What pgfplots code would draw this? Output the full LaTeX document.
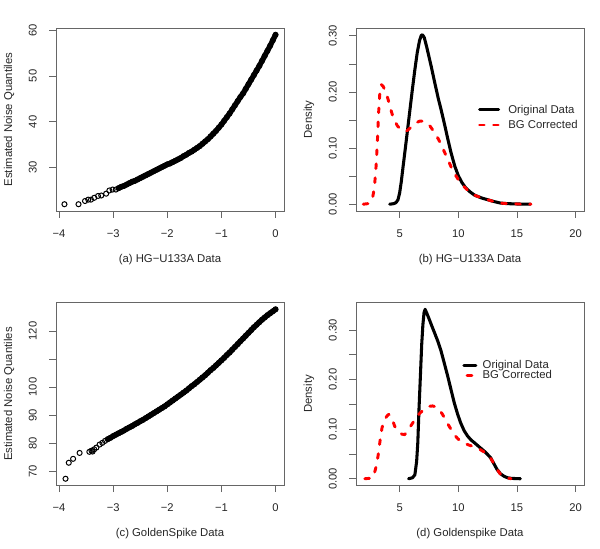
\documentclass[border=0pt]{standalone}
\usepackage{fontspec}
\setmainfont{Liberation Sans}
\usepackage{pgfplots}
\pgfplotsset{compat=1.18}
\definecolor{boxgray}{gray}{0.4}
\definecolor{txt}{gray}{0.15}
\pgfplotsset{
  rbase/.style={
    scale only axis, width=171pt, height=137.25pt, anchor=south west,
    axis line style={boxgray, line width=0.6pt},
    every tick/.style={boxgray, line width=0.6pt},
    tick align=outside, major tick length=5pt,
    xtick pos=bottom, ytick pos=left,
    ticklabel style={font=\fontsize{8.4}{10}\selectfont, text=txt, inner sep=0pt, text height=6pt, text depth=0pt},
    xticklabel style={anchor=north},
    yticklabel style={rotate=90, anchor=south},
    xticklabel shift=8.5pt, yticklabel shift=9.25pt,
    label style={font=\fontsize{8.5}{10}\selectfont, text=txt},
    xlabel style={at={(axis description cs:0.5,-0.265)}, anchor=center},
    ylabel style={at={(axis description cs:-0.2061,0.5)}, anchor=center, rotate=0},
    clip=true,
  },
  qq/.style={rbase, xmin=-4.056, xmax=0.156, xtick={-4,-3,-2,-1,0}, xticklabels={−4,−3,−2,−1,0}, ylabel={Estimated Noise Quantiles}},
  dens/.style={rbase, xmin=1.28, xmax=20.72, xtick={5,10,15,20}, xticklabels={5,10,15,20},
    ytick={0,0.05,0.1,0.15,0.2,0.25,0.3}, yticklabels={0.00,,0.10,,0.20,,0.30}, ylabel={Density},
    legend cell align=left,
  },
  circ/.style={only marks, mark=o, mark size=1.9pt, mark options={line width=0.75pt, black}},
  band/.style={black, line width=4pt, line join=round, line cap=round},
  orig/.style={black, line width=2.3pt, line cap=round, line join=round},
  bgc/.style={red, line width=2.2pt, line cap=round, line join=round, dash pattern=on 3.5pt off 7pt},
}
\pgfplotstableread{
x y
-2.90 25.5
-2.85 25.8
-2.80 26.0
-2.75 26.3
-2.70 26.6
-2.65 26.9
-2.60 27.1
-2.55 27.4
-2.50 27.7
-2.45 28.0
-2.40 28.3
-2.35 28.6
-2.30 28.9
-2.25 29.2
-2.20 29.5
-2.15 29.8
-2.10 30.1
-2.05 30.4
-2.00 30.7
-1.95 30.9
-1.90 31.2
-1.85 31.5
-1.80 31.8
-1.75 32.1
-1.70 32.5
-1.65 32.8
-1.60 33.2
-1.55 33.5
-1.50 33.9
-1.45 34.3
-1.40 34.7
-1.35 35.2
-1.30 35.7
-1.25 36.2
-1.20 36.8
-1.15 37.4
-1.10 38.0
-1.05 38.7
-1.00 39.4
-0.95 40.2
-0.90 41.0
-0.85 41.8
-0.80 42.7
-0.75 43.6
-0.70 44.5
-0.65 45.4
-0.60 46.2
-0.55 47.2
-0.50 48.2
-0.45 49.2
-0.40 50.2
-0.35 51.2
-0.30 52.2
-0.25 53.3
-0.20 54.4
-0.15 55.5
-0.10 56.6
-0.05 57.8
0.00 59.0
}\qqAdense
\pgfplotstableread{
x y
-3.90 22.0
-3.64 22.0
-3.52 22.7
-3.46 23.0
-3.41 23.0
-3.35 23.4
-3.28 23.8
-3.22 23.9
-3.13 24.3
-3.07 25.0
-3.01 25.2
-2.95 25.2
}\qqAsparse
\pgfplotstableread{
x y
-3.10 81.4
-3.05 81.9
-3.00 82.5
-2.95 83.0
-2.90 83.5
-2.85 84.0
-2.80 84.5
-2.75 85.1
-2.70 85.6
-2.65 86.1
-2.60 86.7
-2.55 87.2
-2.50 87.8
-2.45 88.3
-2.40 88.9
-2.35 89.5
-2.30 90.1
-2.25 90.7
-2.20 91.3
-2.15 91.9
-2.10 92.5
-2.05 93.1
-2.00 93.8
-1.95 94.5
-1.90 95.2
-1.85 95.9
-1.80 96.6
-1.75 97.3
-1.70 98.0
-1.65 98.7
-1.60 99.5
-1.55 100.3
-1.50 101.0
-1.45 101.8
-1.40 102.6
-1.35 103.4
-1.30 104.2
-1.25 105.1
-1.20 106.0
-1.15 106.8
-1.10 107.7
-1.05 108.6
-1.00 109.5
-0.95 110.4
-0.90 111.4
-0.85 112.3
-0.80 113.3
-0.75 114.3
-0.70 115.3
-0.65 116.3
-0.60 117.3
-0.55 118.3
-0.50 119.3
-0.45 120.3
-0.40 121.3
-0.35 122.2
-0.30 123.1
-0.25 124.0
-0.20 124.8
-0.15 125.6
-0.10 126.3
-0.05 127.0
0.00 127.7
}\qqCdense
\pgfplotstableread{
x y
-3.88 67.3
-3.82 73.0
-3.74 74.4
-3.62 76.5
-3.44 76.9
-3.40 77.3
-3.38 77.0
-3.35 77.8
-3.31 78.4
-3.25 79.5
-3.20 80.1
-3.15 80.8
}\qqCsparse
\begin{document}
\begin{tikzpicture}
\path[use as bounding box] (0,0) rectangle (450pt,411.75pt);
% (a)
\begin{axis}[qq, at={(42pt,253.5pt)}, ymin=20.52, ymax=60.48, ytick={30,40,50,60}, yticklabels={30,40,50,60},
  xlabel={(a) HG−U133A Data}]
\addplot[band] table[x=x,y=y] {\qqAdense};
\addplot[circ] table[x=x,y=y] {\qqAdense};
\addplot[circ] table[x=x,y=y] {\qqAsparse};
\end{axis}
% (b)
\begin{axis}[dens, at={(267pt,253.5pt)}, ymin=-0.0121, ymax=0.3141, xlabel={(b) HG−U133A Data},
  legend image code/.code={\draw[#1] (0pt,0pt) -- (14.25pt,0pt);},
  legend style={at={(0.534,0.513)}, anchor=west, draw=none, fill=none, inner sep=0pt, row sep=5.9pt, column sep=6.2pt,
    font=\fontsize{8.5}{10}\selectfont, text=txt, nodes={inner sep=0pt, text height=5.9pt, text depth=0pt}}]
\addplot[orig] coordinates {(4.15,0) (4.5,0.001) (4.7,0.003) (4.86,0.008) (5.0,0.02) (5.14,0.04) (5.3,0.068) (5.5,0.102) (5.7,0.137) (5.9,0.172) (6.1,0.207) (6.3,0.24) (6.5,0.27) (6.7,0.292) (6.85,0.301) (6.95,0.302) (7.1,0.297) (7.3,0.281) (7.5,0.263) (7.7,0.245) (8.0,0.216) (8.3,0.188) (8.53,0.169) (8.8,0.145) (9.1,0.117) (9.38,0.092) (9.7,0.068) (10.0,0.051) (10.3,0.039) (10.6,0.03) (11.0,0.022) (11.4,0.016) (12.0,0.011) (12.5,0.008) (13.0,0.005) (13.6,0.002) (14.2,0.001) (15.0,0.0004) (16.15,0)};
\addlegendentry{Original Data}
\addplot[bgc] coordinates {(1.9,0) (2.3,0.001) (2.5,0.003) (2.7,0.012) (2.85,0.03) (3.0,0.07) (3.1,0.11) (3.2,0.16) (3.3,0.195) (3.45,0.213) (3.6,0.21) (3.8,0.2) (4.0,0.188) (4.2,0.172) (4.4,0.158) (4.6,0.148) (4.8,0.14) (5.0,0.135) (5.3,0.131) (5.56,0.13) (5.8,0.134) (6.1,0.14) (6.4,0.145) (6.7,0.148) (7.0,0.148) (7.3,0.145) (7.6,0.139) (7.9,0.13) (8.2,0.12) (8.5,0.108) (8.8,0.094) (9.1,0.08) (9.4,0.066) (9.7,0.054) (10.0,0.044) (10.3,0.036) (10.6,0.029) (11.0,0.021) (11.4,0.016) (12.0,0.011) (12.5,0.008) (13.0,0.005) (13.6,0.002) (14.2,0.001) (15.0,0.0004) (16.2,0)};
\addlegendentry{BG Corrected}
\end{axis}
% (c)
\begin{axis}[qq, at={(42pt,47.6pt)}, ymin=64.88, ymax=130.12, ytick={70,80,90,100,110,120}, yticklabels={70,80,90,100,,120},
  xlabel={(c) GoldenSpike Data}]
\addplot[band] table[x=x,y=y] {\qqCdense};
\addplot[circ] table[x=x,y=y] {\qqCdense};
\addplot[circ] table[x=x,y=y] {\qqCsparse};
\end{axis}
% (d)
\begin{axis}[dens, at={(267pt,47.6pt)}, ymin=-0.0137, ymax=0.3557, xlabel={(d) Goldenspike Data},
  legend image code/.code={\draw[#1, dash phase=-2.5pt] (0pt,0pt) -- (9pt,0pt);},
  legend style={at={(0.465,0.631)}, anchor=west, draw=none, fill=none, inner sep=0pt, row sep=1.6pt, column sep=4pt,
    font=\fontsize{8.5}{10}\selectfont, text=txt, nodes={inner sep=0pt, text height=5.9pt, text depth=0pt}}]
\addplot[orig] coordinates {(5.76,0) (6.1,0.002) (6.3,0.008) (6.45,0.035) (6.55,0.073) (6.65,0.14) (6.77,0.207) (6.88,0.27) (6.98,0.31) (7.08,0.335) (7.17,0.342) (7.3,0.335) (7.54,0.321) (7.75,0.308) (7.97,0.295) (8.25,0.278) (8.53,0.258) (8.8,0.234) (9.1,0.207) (9.4,0.178) (9.66,0.153) (9.95,0.13) (10.2,0.113) (10.5,0.097) (10.8,0.086) (11.1,0.078) (11.36,0.073) (11.8,0.064) (12.2,0.056) (12.5,0.049) (12.77,0.042) (13.0,0.032) (13.3,0.019) (13.6,0.01) (13.9,0.005) (14.2,0.002) (14.5,0.0008) (15.0,0.0002) (15.3,0)};
\addlegendentry{Original Data}
\addplot[bgc] coordinates {(2.03,0) (2.5,0.001) (2.74,0.003) (2.95,0.02) (3.16,0.046) (3.35,0.08) (3.5,0.103) (3.7,0.118) (3.87,0.125) (4.05,0.13) (4.2,0.128) (4.4,0.118) (4.58,0.106) (4.8,0.098) (5.0,0.093) (5.2,0.09) (5.42,0.089) (5.65,0.095) (5.85,0.103) (6.1,0.112) (6.4,0.123) (6.75,0.133) (7.1,0.14) (7.5,0.146) (7.8,0.147) (8.1,0.145) (8.35,0.14) (8.6,0.132) (8.85,0.122) (9.1,0.111) (9.4,0.099) (9.66,0.089) (9.95,0.081) (10.2,0.076) (10.5,0.072) (10.9,0.068) (11.3,0.065) (11.8,0.06) (12.2,0.054) (12.5,0.048) (12.77,0.041) (13.0,0.032) (13.3,0.019) (13.6,0.009) (13.9,0.004) (14.2,0.0015) (14.5,0)};
\addlegendentry{BG Corrected}
\end{axis}
\end{tikzpicture}
\end{document}
